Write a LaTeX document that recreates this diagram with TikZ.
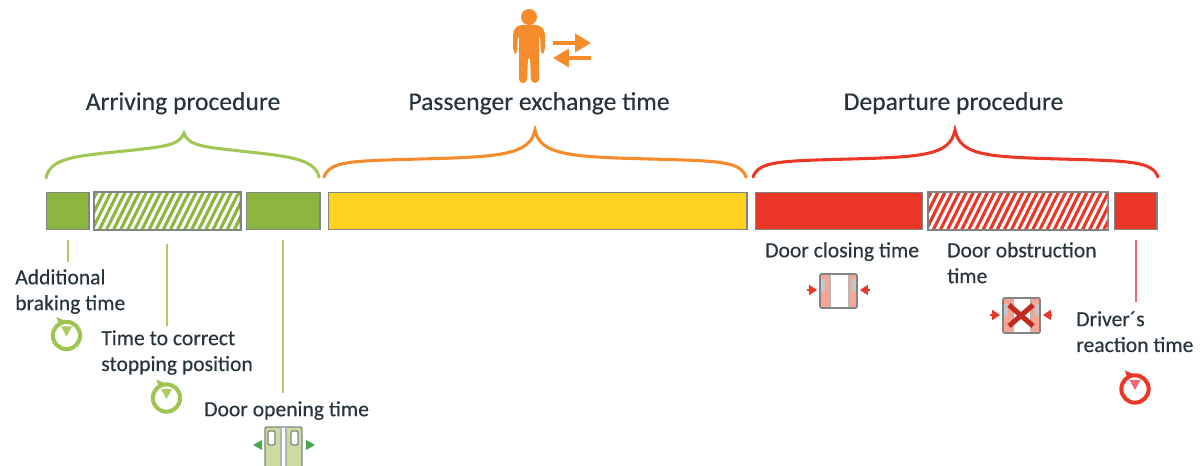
\documentclass[tikz,border=0pt]{standalone}
\usepackage{fontspec}
\setmainfont{Carlito}
\newfontfamily\labfont[FakeBold=0.25]{Carlito}
\usetikzlibrary{arrows.meta,calc}
\definecolor{grn}{HTML}{8DB641}
\definecolor{grnl}{HTML}{A9CE5E}
\definecolor{org}{HTML}{F68B2C}
\definecolor{yel}{HTML}{FFD21F}
\definecolor{rd}{HTML}{EB3727}
\definecolor{rdl}{HTML}{F0667A}
\definecolor{pnk}{HTML}{F4A594}
\definecolor{leaf}{HTML}{CBDC9E}
\definecolor{dgrn}{HTML}{45A84A}
\definecolor{bord}{HTML}{7F8585}
\definecolor{txt}{HTML}{27343C}
\tikzset{
 barbox/.style={draw=bord,line width=1.1pt,minimum height=27.6pt,inner sep=0pt,anchor=west},
 head/.style={font=\labfont\fontsize{19.2pt}{22pt}\selectfont,text=txt,inner sep=0pt,anchor=base},
 lab/.style={font=\labfont\fontsize{16.2pt}{19.4pt}\selectfont,text=txt,inner sep=0pt,anchor=north west,align=left},
 brace/.style={line width=2.3pt,line cap=round},
 lead/.style={line width=1.5pt},
 door/.style={draw=#1,line width=1.1pt,rounded corners=1pt},
 smallarrow/.style={rd,line width=1.2pt,-{Triangle[length=6pt,width=7.5pt]}},
 bigarrow/.style={org,line width=2.6pt,-{Triangle[length=12pt,width=13.5pt]}},
}
% stopwatch: ring, tick at upper left, wedge at the top of the dial
\newcommand{\stopw}[5]{% name, x, y, ring colour, wedge colour
 \node[circle,draw=#4,line width=3pt,minimum size=20.5pt,inner sep=0pt] (#1) at (#2,#3) {};
 \fill[#4] ($(#1.center)+(-10,-18.5)$) -- ++(8,3.5) -- ++(-6,3.5) -- cycle;
 \fill[#5] ($(#1.center)+(-5.5,-9)$) -- ++(11,0) -- ++(-5.5,10) -- cycle;
}
\begin{document}
\begin{tikzpicture}[x=0.75pt,y=-0.75pt]
\useasboundingbox (0,0) rectangle (1200,466);
\fill[white] (0,0) rectangle (1200,466);

% bars
\node[barbox,fill=grn,minimum width=31.6pt] (b1) at (46,211) {};
\node[barbox,fill=grn,minimum width=109pt] (b2) at (94,211) {};
\node[barbox,fill=grn,minimum width=55pt] (b3) at (246,211) {};
\node[barbox,fill=yel,minimum width=313.6pt] (b4) at (328,211) {};
\node[barbox,fill=rd,minimum width=125pt] (b5) at (755,211) {};
\node[barbox,fill=rd,minimum width=134.4pt] (b6) at (928,211) {};
\node[barbox,fill=rd,minimum width=31.6pt] (b7) at (1114,211) {};
% hatching
\begin{scope}
 \clip (94.7,192.7) rectangle (239.7,229.3);
 \foreach \k in {-3,...,20}{
  \fill[white] ({94+\k*7.1},230) -- ++(3.3,0) -- ++(19,-38) -- ++(-3.3,0) -- cycle;
 }
\end{scope}
\begin{scope}
 \clip (928.7,192.7) rectangle (1107.3,229.3);
 \foreach \k in {-3,...,25}{
  \fill[white] ({928+\k*7.1},230) -- ++(3.3,0) -- ++(19,-38) -- ++(-3.3,0) -- cycle;
 }
\end{scope}
\draw[bord,line width=1.1pt] (b2.south west) rectangle (b2.north east);
\draw[bord,line width=1.1pt] (b6.south west) rectangle (b6.north east);

% braces
\draw[brace,grnl!70!grn] (46,178) .. controls (50,158) and (75,156) .. (125,151) .. controls (160,147) and (180,146) .. (184,133)
  .. controls (188,146) and (205,147) .. (240,151) .. controls (285,156) and (315,158) .. (319,177);
\draw[brace,org] (324,177) .. controls (330,161) and (350,161) .. (420,159) .. controls (500,157) and (530,155) .. (535,130)
  .. controls (540,155) and (570,157) .. (650,159) .. controls (720,161) and (740,161) .. (746,177);
\draw[brace,rd] (753,177) .. controls (759,161) and (780,161) .. (850,159) .. controls (925,157) and (950,155) .. (955,130)
  .. controls (960,155) and (985,157) .. (1060,159) .. controls (1130,161) and (1152,161) .. (1158,177);

% headings
\node[head] (hA) at (183,110) {Arriving procedure};
\node[head] (hP) at (539,110) {Passenger exchange time};
\node[head] (hD) at (953.5,110) {Departure procedure};

% person
\fill[org] (529,17) circle (8);
\fill[org,rounded corners=3pt] (513,52) -- (513,31) -- (518,25) -- (540,25) -- (545,31) -- (545,52) -- (541,55) -- (540,34) -- (539,34) -- (539,83) -- (531,83) -- (530,56) -- (528,56) -- (527,83) -- (519,83) -- (519,34) -- (518,34) -- (517,55) -- cycle;
\node[inner sep=0pt] (pu0) at (552,43) {};
\node[inner sep=0pt] (pu1) at (592,43) {};
\node[inner sep=0pt] (pd0) at (592,58) {};
\node[inner sep=0pt] (pd1) at (552,58) {};
\draw[bigarrow] (pu0) -- (pu1);
\draw[bigarrow] (pd0) -- (pd1);

% labels
\node[lab] (l1) at (15,269) {Additional\\braking time};
\node[lab] (l2) at (101,330) {Time to correct\\stopping position};
\node[lab] (l3) at (204,401) {Door opening time};
\node[lab] (l5) at (765,242) {Door closing time};
\node[lab] (l6) at (947,242) {Door obstruction\\time};
\node[lab] (l7) at (1076,311) {Driver´s\\reaction time};

% leaders
\coordinate (s1) at ($(b1.south)+(0,10)$); \coordinate (e1) at (b1.center |- 0,262);
\coordinate (s2) at ($(b2.south)+(0,14)$); \coordinate (e2) at (b2.center |- 0,326);
\coordinate (s3) at ($(b3.south)+(0,10)$); \coordinate (e3) at (b3.center |- 0,393);
\coordinate (s7) at ($(b7.south)+(0,10)$); \coordinate (e7) at (b7.center |- 0,302);
\draw[lead,grnl] (s1) -- (e1);
\draw[lead,grnl] (s2) -- (e2);
\draw[lead,grnl] (s3) -- (e3);
\draw[lead,rdl] (s7) -- (e7);

% stopwatches
\stopw{w1}{66.5}{335.5}{grnl!60!grn}{grnl}
\stopw{w2}{166.5}{398}{grnl!60!grn}{grnl}
\stopw{w3}{1135}{389}{rd}{rdl}

% opening door
\fill[leaf] (265,427) rectangle (302,466);
\fill[white] (281,427) rectangle (286,466);
\draw[door=bord] (265,466) -- (265,427) -- (302,427) -- (302,466);
\draw[bord!60!white,line width=.8pt] (281,427) -- (281,466) (286,427) -- (286,466);
\draw[door=bord,fill=white] (268,431) rectangle (275,445);
\draw[door=bord,fill=white] (291,431) rectangle (298,445);
\node[inner sep=0pt] (oa) at (253,445) {};
\node[inner sep=0pt] (ob) at (315,445) {};
\fill[dgrn] (oa.center) -- ++(9,-5) -- ++(0,10) -- cycle;
\fill[dgrn] (ob.center) -- ++(-9,-5) -- ++(0,10) -- cycle;

% closing door
\fill[pnk] (820,274) rectangle (830,308);
\fill[pnk] (848,274) rectangle (857,308);
\draw[bord!60!white,line width=.6pt] (830,274) -- (830,308) (848,274) -- (848,308);
\draw[door=bord,line width=1.2pt] (820,274) rectangle (857,308);
\fill[bord!45!white] (821,279) rectangle (825,291);
\fill[bord!45!white] (852,279) rectangle (856,291);
\node[inner sep=0pt] (ca) at (806,290) {};
\node[inner sep=0pt] (cb) at (818,290) {};
\node[inner sep=0pt] (cc) at (871,290) {};
\node[inner sep=0pt] (cd) at (859,290) {};
\draw[smallarrow] (ca) -- (cb);
\draw[smallarrow] (cc) -- (cd);

% obstructed door
\fill[pnk] (1003,298) rectangle (1013,333);
\fill[pnk] (1030,298) rectangle (1040,333);
\draw[bord!60!white,line width=.6pt] (1013,298) -- (1013,333) (1030,298) -- (1030,333);
\draw[door=bord,line width=1.2pt] (1003,298) rectangle (1040,333);
\fill[bord!45!white] (1004,304) rectangle (1008,316);
\fill[bord!45!white] (1035,304) rectangle (1039,316);
\draw[rd!80!black,line width=3.8pt] (1009,305) -- (1033,326) (1033,305) -- (1009,326);
\node[inner sep=0pt] (xa) at (989,315) {};
\node[inner sep=0pt] (xb) at (1001,315) {};
\node[inner sep=0pt] (xc) at (1053,315) {};
\node[inner sep=0pt] (xd) at (1042,315) {};
\draw[smallarrow] (xa) -- (xb);
\draw[smallarrow] (xc) -- (xd);
\end{tikzpicture}
\end{document}
